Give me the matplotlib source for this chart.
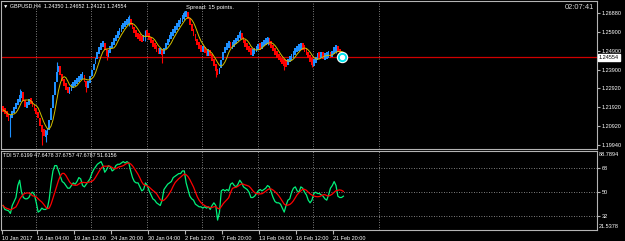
"""
gbpusd_h4_tdi.py
GBPUSD H4 candles with MA and TDI sub-window, MT4 style
"""

# import libs
import numpy as np
import pandas as pd
import matplotlib.pyplot as plt
import matplotlib.transforms as mtrans

plt.rcParams['font.family'] = ['Liberation Sans', 'DejaVu Sans']

# data
closes = [1.2178, 1.2167, 1.2146, 1.2130, 1.2141,
          1.2167, 1.2188, 1.2209, 1.2230, 1.2246,
          1.2272, 1.2225, 1.2199, 1.2209,
          1.2230, 1.2220, 1.2199,
          1.2178, 1.2167,
          1.2135, 1.2093, 1.2067, 1.2051,
          1.2056, 1.2072,
          1.2125, 1.2188, 1.2256, 1.2325, 1.2378, 1.2409,
          1.2362, 1.2335, 1.2309,
          1.2293, 1.2272, 1.2288, 1.2304,
          1.2314, 1.2325, 1.2335, 1.2346, 1.2356, 1.2362,
          1.2325, 1.2304, 1.2320,
          1.2356, 1.2388, 1.2420, 1.2451, 1.2478, 1.2504, 1.2520, 1.2530,
          1.2493, 1.2467, 1.2483, 1.2509,
          1.2530, 1.2546, 1.2567, 1.2583, 1.2599,
          1.2614, 1.2625, 1.2635, 1.2646, 1.2651,
          1.2630, 1.2609, 1.2588, 1.2572, 1.2562, 1.2556, 1.2546, 1.2567,
          1.2588, 1.2572,
          1.2556, 1.2535, 1.2520, 1.2509, 1.2493, 1.2483, 1.2493, 1.2472,
          1.2504, 1.2525, 1.2546, 1.2562, 1.2578, 1.2593, 1.2609, 1.2625,
          1.2641, 1.2651, 1.2667, 1.2678, 1.2688,
          1.2662, 1.2625, 1.2599, 1.2572, 1.2546, 1.2525, 1.2509,
          1.2493, 1.2504, 1.2483, 1.2472, 1.2488, 1.2467,
          1.2441, 1.2414, 1.2388, 1.2367, 1.2399,
          1.2441, 1.2483, 1.2504, 1.2520, 1.2525, 1.2514,
          1.2520, 1.2535, 1.2546, 1.2567,
          1.2578, 1.2556,
          1.2535, 1.2520, 1.2504, 1.2493, 1.2478, 1.2483, 1.2493,
          1.2504, 1.2514, 1.2509, 1.2525, 1.2535, 1.2541, 1.2546, 1.2530,
          1.2514, 1.2493, 1.2478, 1.2462, 1.2451, 1.2441, 1.2430, 1.2425,
          1.2420, 1.2441,
          1.2451, 1.2462, 1.2478, 1.2493, 1.2504, 1.2509, 1.2514, 1.2509,
          1.2493,
          1.2478, 1.2456, 1.2441, 1.2425, 1.2430, 1.2451,
          1.2467, 1.2462, 1.2472, 1.2456, 1.2462, 1.2467, 1.2472, 1.2462,
          1.2483,
          1.2499, 1.2504, 1.2493,
          1.2472, 1.2462, 1.2455]

# a few long wicks
wick_bars = [4, 9, 21, 23, 29, 45, 56, 68, 77, 86, 98, 115, 128, 143, 152, 167, 180]
wick_lo = [1.2035, 1.2230, 1.1994, 1.2010, 1.2360, 1.2272, 1.2441, 1.2620, 1.2540,
           1.2425, 1.2650, 1.2350, 1.2550, 1.2520, 1.2388, 1.2404, 1.2480]
wick_hi = [1.2150, 1.2288, 1.2088, 1.2070, 1.2430, 1.2320, 1.2500, 1.2680, 1.2600,
           1.2490, 1.2696, 1.2420, 1.2596, 1.2560, 1.2440, 1.2450, 1.2520]

# TDI price line (green)
tdi_green = [40, 37, 36.5, 36, 34, 40, 43, 46, 55, 59, 50, 46, 45, 45, 46, 49, 50, 48,
             42, 35, 36, 38, 37, 37, 38, 45, 57, 66, 70, 70, 66, 62, 58, 57, 55, 53,
             53, 55, 57, 56, 58, 61, 60, 55, 54, 56, 58, 60, 64, 67, 69, 71, 72, 73,
             70, 65, 67, 70, 69, 66, 67, 70, 71, 71, 72, 73, 72, 73, 72, 66, 61, 58,
             57, 57, 54, 51, 52, 57, 55, 51, 48, 45, 44, 42, 41, 40, 44, 52, 54, 56,
             57, 58, 61, 62, 63, 64, 64, 66, 66, 57, 52, 47, 45, 44, 41, 40, 39, 39,
             38, 39, 38, 39, 37, 40, 42, 40, 29, 35, 51, 52, 51, 52, 51, 56, 57, 55,
             54, 56, 59, 57, 54, 53, 52, 50, 46, 46, 47, 49, 51, 52, 51, 52, 53, 55,
             54, 50, 46, 43, 42, 42, 41, 38, 35, 40, 44, 45, 50, 53, 54, 51, 50, 54,
             53, 50, 48, 44, 42, 44, 49, 50, 49, 49, 48, 47, 45, 44, 48, 53, 55, 58,
             55, 47, 46, 46, 47]

last_price = 1.24554
price_ticks = [1.26880, 1.25900, 1.24900, 1.23900, 1.22920, 1.21920, 1.20920, 1.19940]
tdi_levels = [68, 50, 32]
grid_bars = [17.8, 47.8, 77.8, 107.8, 137.8, 167.8, 203.5]
date_ticks = [-0.8, 18.5, 38.5, 58.5, 78.5, 98.5, 118.5, 138.5, 158.5, 178.5]
date_labels = ['10 Jan 2017', '16 Jan 04:00', '19 Jan 12:00', '24 Jan 20:00',
               '30 Jan 04:00', '2 Feb 12:00', '7 Feb 20:00', '13 Feb 04:00',
               '16 Feb 12:00', '21 Feb 20:00']

# data wrangling
df = pd.DataFrame({'close': closes})
df['open'] = df['close'].shift(1).fillna(df['close'].iloc[0] + 0.0008)
df['ma'] = df['close'].rolling(6, min_periods=1).mean()
tdi = pd.DataFrame({'green': tdi_green})
tdi['red'] = tdi['green'].rolling(7, min_periods=1).mean()
idx = np.arange(len(df))

# figure, pixel helpers
W, H = 625, 241
fig = plt.figure(figsize=(W / 100, H / 100), dpi=100, facecolor='black')
def fx(px):
    return px / W
def fy(py):
    return 1 - py / H

frame = '#B4B4B4'
grid_c = '#A8A8A8'
fs = 4.0
ax = fig.add_axes([fx(1), fy(149), fx(596), 148 / H], facecolor='black')
ax2 = fig.add_axes([fx(1), fy(230), fx(596), 79 / H], facecolor='black', sharex=ax)

xmin, xmax = (1 - 3) / 1.85, (597 - 3) / 1.85
ax.set_xlim(xmin, xmax)
ax.set_ylim(1.26880 - 136 / 1900, 1.26880 + 12 / 1900)
ax2.set_ylim(21.5378, 81.0)

# candles (bodies open->close, kept visible at a few pixels tall)
up = df['close'] >= df['open']
mid = (df['open'] + df['close']) / 2
body_h = np.maximum(np.abs(df['close'] - df['open']), 0.0034)
colors = np.where(up, '#1E90FF', '#FF0000')
ax.bar(idx, body_h, bottom=mid - body_h / 2, width=0.95, color=colors, linewidth=0,
       antialiased=False, zorder=3)
wick_col = ['#1E90FF' if up[b] else '#FF0000' for b in wick_bars]
ax.vlines(wick_bars, wick_lo, wick_hi, colors=wick_col, linewidth=0.8, zorder=2)
ax.plot(idx, df['ma'], color='#D2C000', lw=0.7, zorder=4)

# current price line and marker
ax.axhline(last_price, color='#D00000', lw=0.9, zorder=1)
ax.scatter([idx[-1] - 1], [last_price], s=55, color='#00E5EE', edgecolors='white',
           linewidths=0.8, zorder=5)
ax.scatter([idx[-1] - 1], [last_price], s=8, color='white', zorder=6)

for g in grid_bars:
    ax.axvline(g, color=grid_c, lw=0.6, ls=(0, (1, 2)), zorder=0)
    ax2.axvline(g, color=grid_c, lw=0.6, ls=(0, (1, 2)), zorder=0)
for lv in tdi_levels:
    ax2.axhline(lv, color=grid_c, lw=0.6, ls=(0, (1, 2)), zorder=0)

# TDI lines
ax2.plot(np.arange(len(tdi)), tdi['green'], color='#00F07A', lw=0.9, zorder=3)
ax2.plot(np.arange(len(tdi)), tdi['red'], color='#FF0000', lw=0.9, zorder=4)

# axes styling
for a in (ax, ax2):
    for s in a.spines.values():
        s.set_color(frame)
        s.set_linewidth(0.8)
ax.set_yticks(price_ticks)
ax.set_yticklabels(['%.5f' % p for p in price_ticks])
ax.tick_params(axis='y', left=False, labelleft=False, right=True, labelright=True,
               length=2, color=frame, labelcolor='white', labelsize=fs, pad=1.5)
ax.tick_params(axis='x', bottom=False, labelbottom=False)
ax2.set_yticks(tdi_levels)
ax2.set_yticklabels([str(v) for v in tdi_levels])
ax2.tick_params(axis='y', left=False, labelleft=False, right=True, labelright=True,
                length=2, color=frame, labelcolor='white', labelsize=fs, pad=1.5)
ax2.set_xticks(date_ticks)
ax2.set_xticklabels(date_labels)
ax2.tick_params(axis='x', length=3, color=frame, labelcolor='white', labelsize=fs, pad=1)
for lbl in ax2.get_xticklabels():
    lbl.set_ha('left')
ax2.set_xlim(xmin, xmax)

# texts
ax.text(1.003, last_price, '1.24554', transform=mtrans.blended_transform_factory(ax.transAxes, ax.transData),
        color='black', fontsize=fs, va='center', ha='left',
        bbox=dict(facecolor='white', edgecolor='white', pad=0.8))
fig.text(fx(3), fy(6), '\u25bc GBPUSD,H4  1.24350 1.24652 1.24121 1.24554',
         color='white', fontsize=3.9, va='center', ha='left')
fig.text(fx(186), fy(7), 'Spread: 15 points.', color='white', fontsize=4.2, va='center', ha='left')
fig.text(fx(594), fy(7.5), '02:07:41', color='#D8D8D8', fontsize=5.4, va='center', ha='right')
fig.text(fx(3), fy(155.5), 'TDI 57.6199 47.6478 37.6757 47.6787 51.6156',
         color='white', fontsize=3.9, va='center', ha='left')
fig.text(fx(599), fy(154.5), '88.7894', color='white', fontsize=fs, va='center', ha='left')
fig.text(fx(599), fy(226.5), '21.5378', color='white', fontsize=fs, va='center', ha='left')

plt.savefig('out.png', dpi=100, facecolor='black')
